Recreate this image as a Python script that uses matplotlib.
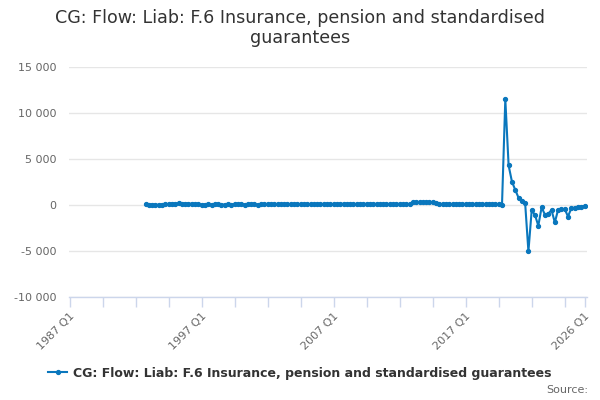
import matplotlib
matplotlib.use('Agg')
import matplotlib.pyplot as plt
from matplotlib.lines import Line2D
import matplotlib.ticker as mticker

# Quarterly categories 1987 Q1 .. 2026 Q1
years = list(range(1987, 2027))
quarters = [f'{y} Q{q}' for y in years for q in (1, 2, 3, 4)]
quarters = quarters[:quarters.index('2026 Q1') + 1]

series_name = 'CG: Flow: Liab: F.6 Insurance, pension and standardised guarantees'
first_quarter = '1992 Q4'

# values (GBP million), from 1992 Q4 onward
vals_1992_1994 = [60, 40, 50, 30, 20, 40, 60, 90]
vals_1994_1996 = [160, 150, 170, 140, 160, 150, 140, 130]
vals_1996_2001 = [60, 50, 40, 60, 50, 60, 70, 50, 40, 60, 50,
                  60, 70, 60, 50, 60, 70, 60, 50, 60, 70, 80]
vals_2002_2012 = [90, 100, 80, 90, 100, 110, 90, 100, 100, 90,
                  110, 100, 90, 100, 110, 120, 100, 110, 100, 90,
                  110, 120, 130, 110, 120, 110, 100, 120, 110, 120,
                  130, 120, 110, 100, 120, 110, 100, 90, 110, 120,
                  100, 110, 90]
vals_2013_2014 = [280, 300, 290, 280, 300, 290, 280, 270]
vals_2015_2019 = [80, 70, 80, 90, 70, 80, 70, 80, 90, 80,
                  70, 80, 70, 80, 90, 80, 70, 80, 60, 50]
vals_2020_2026 = [11500, 4300, 2550, 1650, 800, 400, 250, -5050, -550, -1100,
                  -2250, -250, -1050, -950, -550, -1900, -500, -450, -450, -1250,
                  -350, -300, -250, -180, -100]

values = (vals_1992_1994 + vals_1994_1996 + vals_1996_2001 + vals_2002_2012
          + vals_2013_2014 + vals_2015_2019 + vals_2020_2026)
start = quarters.index(first_quarter)
xpos = list(range(start, start + len(values)))

y_ticks = [-10000, -5000, 0, 5000, 10000, 15000]
label_quarters = ['1987 Q1', '1997 Q1', '2007 Q1', '2017 Q1', '2026 Q1']

blue = '#0a77bd'
grey_text = '#666666'

fig = plt.figure(figsize=(6, 4), dpi=100)
ax = fig.add_axes([0.115, 0.2575, 0.8625, 0.575])

ax.plot(xpos, values, color=blue, linewidth=1.5, marker='o',
        markersize=2.8, zorder=3)

ax.set_ylim(-10000, 15000)
ax.set_yticks(y_ticks)
ax.yaxis.set_major_formatter(
    mticker.FuncFormatter(lambda v, p: f'{int(v):,}'.replace(',', ' ')))
ax.grid(axis='y', color='#e6e6e6', linewidth=1)
ax.set_axisbelow(True)
ax.tick_params(axis='y', length=0, pad=9, labelsize=8, labelcolor=grey_text)

last = len(quarters) - 1
ax.set_xlim(-0.2, last + 0.6)
xt = list(range(0, last, 10)) + [last]
xl = [quarters[i] if quarters[i] in label_quarters else '' for i in xt]
ax.set_xticks(xt)
ax.set_xticklabels(xl, rotation=45, ha='right', rotation_mode='anchor')
ax.tick_params(axis='x', length=7, width=1, color='#ccd6eb', direction='out',
               pad=3, labelsize=8, labelcolor=grey_text)

for s in ('top', 'right', 'left'):
    ax.spines[s].set_visible(False)
ax.spines['bottom'].set_color('#ccd6eb')
ax.spines['bottom'].set_linewidth(1)

fig.text(0.5, 0.978, 'CG: Flow: Liab: F.6 Insurance, pension and standardised\nguarantees',
         ha='center', va='top', fontsize=12.6, color='#333333', linespacing=1.15)

handle = Line2D([], [], color=blue, linewidth=1.5, marker='o', markersize=2.8)
fig.legend([handle], [series_name], loc='center', bbox_to_anchor=(0.5, 0.0675),
           frameon=False, handlelength=1.5, handletextpad=0.5,
           prop={'size': 9, 'weight': 'bold'}, labelcolor='#333333')

fig.text(0.98, 0.025, 'Source:', ha='right', va='center', fontsize=8,
         color=grey_text)

fig.savefig('out.png', dpi=100)
